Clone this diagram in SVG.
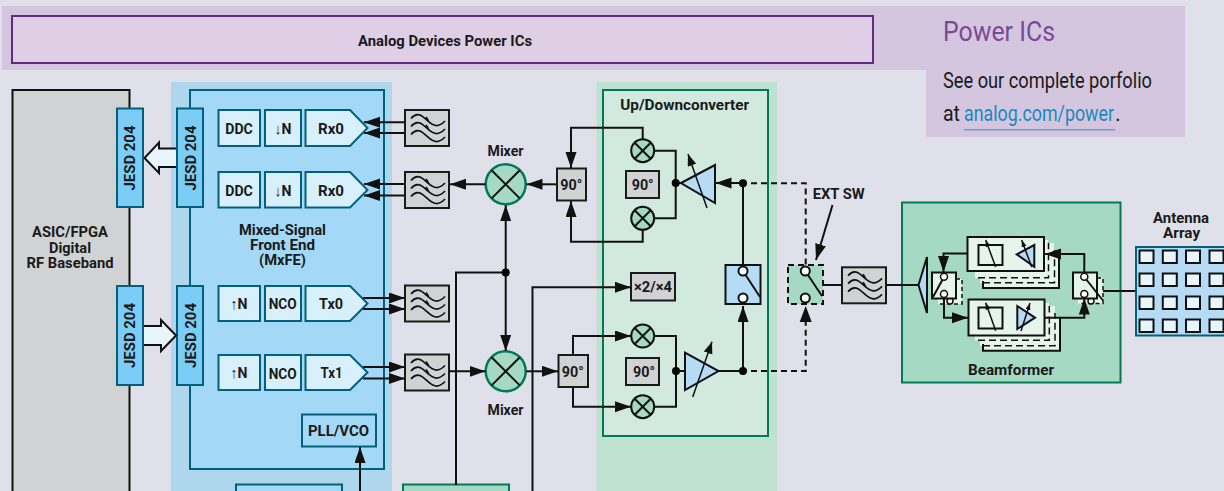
<svg xmlns="http://www.w3.org/2000/svg" xmlns:xlink="http://www.w3.org/1999/xlink" width="1224" height="491" viewBox="0 0 1224 491">
<style>
text{font-family:Roboto,"Liberation Sans",sans-serif;font-weight:700;fill:#1a1a1a;text-anchor:middle;font-size:15px}
.m{font-size:14px}
.thin{font-weight:400}
.reg{font-weight:400;text-anchor:start}
.box{fill:#d8effc;stroke:#00607e;stroke-width:2}
.jesd{fill:#7bcdf5;stroke:#00607e;stroke-width:2}
.gray{fill:#d1d2d4;stroke:#1a1a1a;stroke-width:2}
.ln{fill:none;stroke:#111;stroke-width:2}
.ln1{fill:none;stroke:#111;stroke-width:1.5}
.dash{fill:none;stroke:#111;stroke-width:2;stroke-dasharray:6 4}
.arr{marker-end:url(#ah)}
.sw{fill:#fff;stroke:#111;stroke-width:2}
.mint{fill:#e6f4ee;stroke:#111;stroke-width:2}
.amp{fill:#b5dcf4;stroke:#111;stroke-width:2}
.wave{fill:none;stroke:#111;stroke-width:1.700}
.hollow{fill:#e8f5fd;stroke:#111;stroke-width:2}
.ant{fill:#e8f5fd;stroke:#111;stroke-width:2}
</style>
<defs>
<marker id="ah" markerUnits="userSpaceOnUse" markerWidth="17" markerHeight="12" refX="16" refY="5.500" orient="auto"><path d="M0 0L16 5.500L0 11z" fill="#111"/></marker>
<marker id="am" markerUnits="userSpaceOnUse" markerWidth="13" markerHeight="10" refX="12" refY="4.500" orient="auto"><path d="M0 0L12 4.500L0 9z" fill="#111"/></marker>
<marker id="as" markerUnits="userSpaceOnUse" markerWidth="8" markerHeight="6" refX="7" refY="2.500" orient="auto"><path d="M0 0L7 2.500L0 5z" fill="#111"/></marker>
<g id="filt">
<rect x="0" y="0" width="44" height="36" class="gray"/>
<path class="wave" d="M6 8.500C9 5 13 4 16 5.500C21 8 25 15 31 15.500C35 16 38 13 40 11"/>
<path class="wave" d="M6 16.500C9 13 13 12 16 13.500C21 16 25 23 31 23.500C35 24 38 21 40 19"/>
<path class="wave" d="M6 24.500C9 21 13 20 16 21.500C21 24 25 31 31 31.500C35 32 38 29 40 27"/>
<path class="wave" d="M21 7l2.500 4M21 15l2.500 4"/>
</g>
<g id="mx"><circle r="20" fill="#a6d9c3" stroke="#007a55" stroke-width="2.500"/><path class="ln" d="M-14.100 -14.100L14.100 14.100M14.100 -14.100L-14.100 14.100"/></g>
<g id="sm"><circle r="11.500" fill="#a6d9c3" stroke="#111" stroke-width="2"/><path class="ln" d="M-8 -8L8 8M8 -8L-8 8"/></g>
</defs>

<rect width="1224" height="491" fill="#e0e0ea"/>
<path d="M2 6H1185V137H926V70H2z" fill="#d5c6e0"/>
<rect x="171" y="82" width="221" height="409" fill="#aed6ec"/>
<rect x="596.500" y="82" width="180.500" height="409" fill="#bfe2d0"/>

<g id="power-ics-bar">
<rect x="12" y="16" width="861" height="47" fill="#dfcfe6" stroke="#5e2b7e" stroke-width="2"/>
<text x="445" y="45.500" textLength="174" lengthAdjust="spacingAndGlyphs" style="font-size:14px">Analog Devices Power ICs</text>
</g>
<g id="power-ics-note">
<text class="reg" x="943" y="41" textLength="112" lengthAdjust="spacingAndGlyphs" style="font-size:27px;fill:#7a4a94">Power ICs</text>
<text class="reg" x="943" y="88" textLength="209" lengthAdjust="spacingAndGlyphs" style="font-size:22px">See our complete porfolio</text>
<text class="reg" x="943" y="120.500" textLength="17" lengthAdjust="spacingAndGlyphs" style="font-size:22px">at</text>
<text class="reg" x="964" y="120.500" textLength="150" lengthAdjust="spacingAndGlyphs" style="font-size:22px;fill:#1a88bd">analog.com/power</text>
<text class="reg" x="1115" y="120.500" style="font-size:22px">.</text>
<rect x="964" y="129" width="151" height="1.500" fill="#5ba3d0"/>
</g>

<g id="baseband">
<rect x="12.500" y="90" width="117" height="403" class="gray" style="stroke:#111"/>
<text class="m" x="70" y="237" textLength="76" lengthAdjust="spacingAndGlyphs">ASIC/FPGA</text>
<text class="m" x="70" y="252.500" textLength="42" lengthAdjust="spacingAndGlyphs">Digital</text>
<text class="m" x="70" y="268" textLength="87" lengthAdjust="spacingAndGlyphs">RF Baseband</text>
</g>
<g id="mxfe">
<rect x="190" y="90" width="194" height="379" fill="#a3d9f7" stroke="#00607e" stroke-width="2"/>
<text class="m" x="282.500" y="235" textLength="87" lengthAdjust="spacingAndGlyphs">Mixed-Signal</text>
<text class="m" x="282.500" y="250" textLength="65" lengthAdjust="spacingAndGlyphs">Front End</text>
<text class="m" x="282.500" y="265" textLength="47" lengthAdjust="spacingAndGlyphs">(MxFE)</text>
</g>
<g id="updown">
<rect x="603" y="90" width="165" height="346" fill="#d1e9df" stroke="#007a55" stroke-width="2"/>
<text x="684.700" y="110" textLength="129" lengthAdjust="spacingAndGlyphs">Up/Downconverter</text>
</g>
<g id="beamformer">
<rect x="902" y="202.500" width="218.500" height="180" fill="#a6d9c3" stroke="#007a55" stroke-width="2"/>
<text x="1011" y="375" textLength="86" lengthAdjust="spacingAndGlyphs">Beamformer</text>
</g>

<g id="jesd-a"><rect x="117" y="108.500" width="26" height="98.500" class="jesd"/><text transform="translate(135 158) rotate(-90)" textLength="65" lengthAdjust="spacingAndGlyphs">JESD 204</text></g>
<g id="jesd-b"><rect x="177" y="108.500" width="26" height="98.500" class="jesd"/><text transform="translate(196 158) rotate(-90)" textLength="65" lengthAdjust="spacingAndGlyphs">JESD 204</text></g>
<g id="jesd-c"><rect x="117" y="286" width="26" height="99" class="jesd"/><text transform="translate(135 335.500) rotate(-90)" textLength="65" lengthAdjust="spacingAndGlyphs">JESD 204</text></g>
<g id="jesd-d"><rect x="177" y="286" width="26" height="99" class="jesd"/><text transform="translate(196 335.500) rotate(-90)" textLength="65" lengthAdjust="spacingAndGlyphs">JESD 204</text></g>

<g id="ddc1"><rect x="218.500" y="110" width="41.500" height="36" class="box"/><text x="239" y="133.500" textLength="27.500" lengthAdjust="spacingAndGlyphs">DDC</text></g>
<g id="dn1"><rect x="265" y="110" width="36" height="36" class="box"/><text x="283" y="133.500" textLength="17" lengthAdjust="spacingAndGlyphs"><tspan class="thin">↓</tspan>N</text></g>
<g id="rx1"><path d="M305.500 110H350L367.500 128L350 146H305.500z" class="box"/><text x="331" y="133.500" textLength="26" lengthAdjust="spacingAndGlyphs">Rx0</text></g>
<g id="ddc2"><rect x="218.500" y="172" width="41.500" height="35.500" class="box"/><text x="239" y="195.500" textLength="27.500" lengthAdjust="spacingAndGlyphs">DDC</text></g>
<g id="dn2"><rect x="265" y="172" width="36" height="35.500" class="box"/><text x="283" y="195.500" textLength="17" lengthAdjust="spacingAndGlyphs"><tspan class="thin">↓</tspan>N</text></g>
<g id="rx2"><path d="M305.500 172H350L367.500 190L350 207.500H305.500z" class="box"/><text x="331" y="195.500" textLength="26" lengthAdjust="spacingAndGlyphs">Rx0</text></g>
<g id="up1"><rect x="218.500" y="286" width="41.500" height="35" class="box"/><text x="239" y="309" textLength="17" lengthAdjust="spacingAndGlyphs"><tspan class="thin">↑</tspan>N</text></g>
<g id="nco1"><rect x="265" y="286" width="36" height="35" class="box"/><text x="282.700" y="309" textLength="28" lengthAdjust="spacingAndGlyphs">NCO</text></g>
<g id="tx0"><path d="M305.500 286H350L367.500 303.500L350 321H305.500z" class="box"/><text x="331" y="309" textLength="24" lengthAdjust="spacingAndGlyphs">Tx0</text></g>
<g id="up2"><rect x="218.500" y="355" width="41.500" height="35" class="box"/><text x="239" y="378.300" textLength="17" lengthAdjust="spacingAndGlyphs"><tspan class="thin">↑</tspan>N</text></g>
<g id="nco2"><rect x="265" y="355" width="36" height="35" class="box"/><text x="282.700" y="379" textLength="28" lengthAdjust="spacingAndGlyphs">NCO</text></g>
<g id="tx1"><path d="M305.500 355H350L367.500 372.500L350 390H305.500z" class="box"/><text x="331.500" y="378.300" textLength="22" lengthAdjust="spacingAndGlyphs">Tx1</text></g>
<g id="pll"><rect x="302" y="414.500" width="74" height="32" fill="#a3d9f7" stroke="#00607e" stroke-width="2"/><text x="338.500" y="435.700" textLength="61" lengthAdjust="spacingAndGlyphs">PLL/VCO</text></g>
<rect id="lower-blue" x="236" y="484.500" width="106" height="10" fill="#a3d9f7" stroke="#00607e" stroke-width="2"/>
<rect id="lower-green" x="403" y="484.500" width="106" height="10" fill="#a6d9c3" stroke="#007a55" stroke-width="2"/>

<use id="f1" xlink:href="#filt" href="#filt" x="405" y="110"/>
<use id="f2" xlink:href="#filt" href="#filt" x="405" y="172"/>
<use id="f3" xlink:href="#filt" href="#filt" x="405" y="285.500"/>
<use id="f4" xlink:href="#filt" href="#filt" x="405" y="354.500"/>
<use id="f5" xlink:href="#filt" href="#filt" x="842" y="267.300"/>

<g id="mixer-up"><use href="#mx" x="505.700" y="184.300"/><text x="505.500" y="155.700" textLength="36" lengthAdjust="spacingAndGlyphs">Mixer</text></g>
<g id="mixer-down"><use href="#mx" x="505.700" y="371.300"/><text x="505.500" y="415" textLength="36" lengthAdjust="spacingAndGlyphs">Mixer</text></g>
<g id="p90a"><rect x="557" y="168.500" width="29" height="32" class="gray"/><text x="571.300" y="190" textLength="22" lengthAdjust="spacingAndGlyphs">90°</text></g>
<g id="p90b"><rect x="558.500" y="355" width="29.500" height="32" class="gray"/><text x="572.800" y="377.300" textLength="22" lengthAdjust="spacingAndGlyphs">90°</text></g>
<g id="p90c"><rect x="626" y="171" width="33" height="27" class="gray"/><text x="642.700" y="190" textLength="22" lengthAdjust="spacingAndGlyphs">90°</text></g>
<g id="p90d"><rect x="626" y="358" width="33" height="27" class="gray"/><text x="644" y="377.300" textLength="22" lengthAdjust="spacingAndGlyphs">90°</text></g>
<g id="mult"><rect x="631" y="273" width="44" height="27.500" class="gray"/><text x="653" y="292" textLength="38" lengthAdjust="spacingAndGlyphs" style="font-size:14px">×2/×4</text></g>
<use id="sm1" href="#sm" x="642.700" y="150.700"/>
<use id="sm2" href="#sm" x="642.700" y="218.300"/>
<use id="sm3" href="#sm" x="642.700" y="336"/>
<use id="sm4" href="#sm" x="642.700" y="406.700"/>

<g id="amp-rx"><path class="amp" d="M681 183L715 165V203z"/><path class="ln1" d="M707 208L688 154" marker-end="url(#am)"/></g>
<g id="amp-tx"><path class="amp" d="M685 352.700L718.500 371L685 390z"/><path class="ln1" d="M692.700 397L712 341.700" marker-end="url(#am)"/></g>
<g id="sw-int"><rect x="725.500" y="265" width="35" height="39" fill="#b5dcf4" stroke="#111" stroke-width="2"/><path class="ln" d="M743 271L760 297"/><circle class="sw" cx="743" cy="271" r="4.500"/><circle class="sw" cx="743" cy="298" r="4.500"/></g>
<g id="sw-ext"><rect x="788" y="265" width="35" height="39" fill="#a6d9c3" stroke="#111" stroke-width="2" stroke-dasharray="6 4"/><path class="ln" d="M805.300 271L822 296"/><circle class="sw" cx="805.300" cy="271" r="4.500"/><circle class="sw" cx="805.300" cy="298" r="4.500"/><text x="838.700" y="199" textLength="52" lengthAdjust="spacingAndGlyphs">EXT SW</text></g>

<g id="lens"><path class="amp" d="M918.500 285L927 257V313z"/></g>
<g id="bf-sw-l">
<path d="M938 298H956V279H962V304H938z" fill="#e6f4ee"/>
<path class="ln1" d="M956 279H962V304H940" stroke-dasharray="4 3"/>
<circle class="sw" style="stroke-width:1.500" cx="950" cy="301" r="3"/>
<rect class="mint" x="932" y="272.500" width="24" height="26"/>
<path class="ln" d="M944 277L933 297"/>
<circle class="sw" style="stroke-width:1.500" cx="944" cy="276.700" r="3.500"/><circle class="sw" style="stroke-width:1.500" cx="944" cy="294" r="3.500"/>
</g>
<g id="bf-sw-r">
<path d="M1078 298H1097V278H1103V303.500H1078z" fill="#e6f4ee"/>
<path class="ln1" d="M1097 278H1103V303.500H1081" stroke-dasharray="4 3"/>
<circle class="sw" style="stroke-width:1.500" cx="1091" cy="301" r="3"/>
<rect class="mint" x="1073" y="272.500" width="24" height="26"/>
<path class="ln" d="M1084.300 277L1103 300.500"/>
<circle class="sw" style="stroke-width:1.500" cx="1084.300" cy="276.700" r="3.500"/><circle class="sw" style="stroke-width:1.500" cx="1084.300" cy="294" r="3.500"/>
</g>
<g id="bf-top">
<path d="M975 270V278H980V283H983V288H1059V254H1054V243H1048V240H1044V270z" fill="#e6f4ee"/>
<path class="ln1" d="M978 277.700H1048.500V243" stroke-dasharray="7 4"/>
<path class="ln1" d="M983 282.700H1054.500V250" stroke-dasharray="7 4"/>
<path class="ln" d="M983 281V288H1059V254"/>
<rect class="mint" x="967.500" y="237" width="76.500" height="34"/>
<rect x="978.500" y="245" width="24" height="20" fill="none" stroke="#111" stroke-width="2"/>
<path class="ln1" d="M995.700 267L985.700 240" marker-end="url(#as)"/>
<path class="amp" d="M1016.700 254.300L1034.300 245V266.700z"/>
<path class="ln1" d="M1031.700 267L1021.700 240" marker-end="url(#as)"/>
</g>
<g id="bf-bottom">
<path d="M975 335V340.500H980V346H983V351H1060V317H1055V306H1049V303H1044V335z" fill="#e6f4ee"/>
<path class="ln1" d="M978 340.300H1049.300V306" stroke-dasharray="7 4"/>
<path class="ln1" d="M983 345.700H1055V313" stroke-dasharray="7 4"/>
<path class="ln" d="M983 344V350.700H1060V317"/>
<rect class="mint" x="968.500" y="299.500" width="76" height="36"/>
<rect x="978.500" y="307.500" width="24" height="21" fill="none" stroke="#111" stroke-width="2"/>
<path class="ln1" d="M995.700 330.700L985.700 302.700" marker-end="url(#as)"/>
<path class="amp" d="M1035 317.700L1017.300 306V329z"/>
<path class="ln1" d="M1021 331L1030 303" marker-end="url(#as)"/>
</g>
<g id="antenna">
<rect x="1136" y="247" width="92" height="88.500" fill="#b5dcf4" stroke="#00607e" stroke-width="2"/>
<rect class="ant" x="1139.500" y="250.500" width="14" height="12.500"/><rect class="ant" x="1162.800" y="250.500" width="14" height="12.500"/><rect class="ant" x="1186" y="250.500" width="14" height="12.500"/><rect class="ant" x="1209.500" y="250.500" width="14" height="12.500"/>
<rect class="ant" x="1139.500" y="273.500" width="14" height="12.500"/><rect class="ant" x="1162.800" y="273.500" width="14" height="12.500"/><rect class="ant" x="1186" y="273.500" width="14" height="12.500"/><rect class="ant" x="1209.500" y="273.500" width="14" height="12.500"/>
<rect class="ant" x="1139.500" y="296.500" width="14" height="12.500"/><rect class="ant" x="1162.800" y="296.500" width="14" height="12.500"/><rect class="ant" x="1186" y="296.500" width="14" height="12.500"/><rect class="ant" x="1209.500" y="296.500" width="14" height="12.500"/>
<rect class="ant" x="1139.500" y="319.500" width="14" height="12.500"/><rect class="ant" x="1162.800" y="319.500" width="14" height="12.500"/><rect class="ant" x="1186" y="319.500" width="14" height="12.500"/><rect class="ant" x="1209.500" y="319.500" width="14" height="12.500"/>
<text class="m" x="1181" y="222.700" textLength="56" lengthAdjust="spacingAndGlyphs">Antenna</text>
<text class="m" x="1181.600" y="238" textLength="37" lengthAdjust="spacingAndGlyphs">Array</text>
</g>

<g id="connectors">
<path class="hollow" d="M176 148.500H159V142.500L144.500 158L159 173V167H176"/>
<path class="hollow" d="M144 326H161V320L176 335.500L161 351V345H144"/>
<path class="ln arr" d="M405 122.300H364"/>
<path class="ln arr" d="M405 133H364"/>
<path class="ln arr" d="M405 184H364"/>
<path class="ln arr" d="M405 195.500H364"/>
<path class="ln arr" d="M363 298H405"/>
<path class="ln arr" d="M363 309H405"/>
<path class="ln arr" d="M363 367H405"/>
<path class="ln arr" d="M363 378.500H405"/>
<path class="ln arr" d="M360 491V447"/>
<path class="ln" d="M456 485V272.500H505.700"/>
<path class="ln arr" d="M505.700 272.500V205"/>
<path class="ln arr" d="M505.700 272.500V351"/>
<path class="ln arr" d="M485.500 184.300H450"/>
<path class="ln arr" d="M556 184.300H526.500"/>
<path class="ln arr" d="M449 371.300H485.500"/>
<path class="ln arr" d="M526 371.300H558"/>
<path class="ln arr" d="M532.500 491V287.300H631"/>
<path class="ln arr" d="M642.700 139V127.700H571V168"/>
<path class="ln arr" d="M642.700 230V241.700H571V201"/>
<path class="ln" d="M654 150.700H675.700V218.300H654"/>
<path class="ln arr" d="M573 355V336H631"/>
<path class="ln arr" d="M573 387V406.700H631"/>
<path class="ln" d="M654 336H676V406.700H654"/>
<path class="ln" d="M676 371H685"/>
<path class="ln" d="M676 183H681"/>
<path class="ln" d="M718 371H743"/>
<path class="ln arr" d="M743 183H715.500"/>
<path class="ln" d="M743 265V183"/>
<path class="ln arr" d="M743 371V306"/>
<path class="dash" d="M751 183.300H805.700V265"/>
<path class="dash" d="M751 371H805.700V306"/>
<path d="M799.700 322L805.700 306L811.700 322z" fill="#111"/>
<path class="ln arr" d="M832.500 205L816 260"/>
<path class="ln" d="M823 285H842"/>
<path class="ln" d="M886 285H918.500"/>
<path class="ln arr" d="M967.500 253.500H943.500V272"/>
<path class="ln arr" d="M944 298.500V317.700H968"/>
<path class="ln arr" d="M1084.300 272V254H1045"/>
<path class="ln arr" d="M1044.500 317.700H1084.300V298.500"/>
<path class="ln" d="M1103 291H1135"/>
<circle cx="505.700" cy="272.500" r="4"/>
<circle cx="675.700" cy="183" r="4"/>
<circle cx="743" cy="183.300" r="4"/>
<circle cx="676" cy="371" r="4"/>
<circle cx="743" cy="371" r="4"/>
</g>
</svg>
